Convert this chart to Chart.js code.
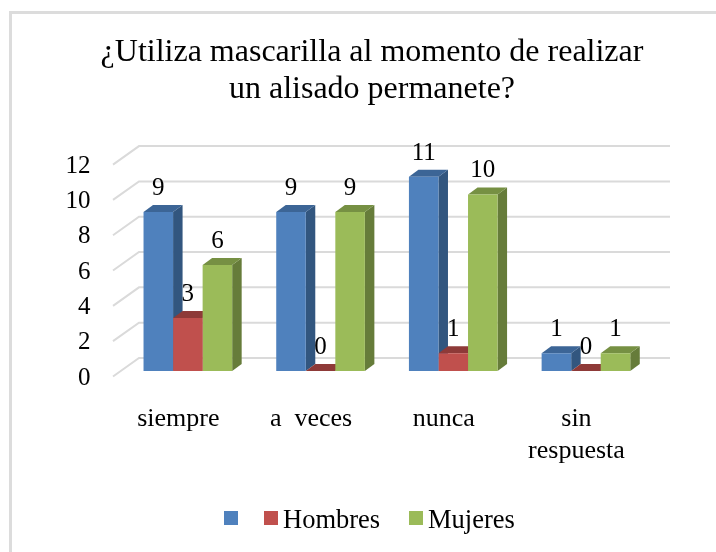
<!DOCTYPE html>
<html>
<head>
<meta charset="utf-8">
<script src="https://cdn.jsdelivr.net/npm/chart.js@4/dist/chart.umd.js"></script>
<style>
html,body{margin:0;padding:0;background:#fff;overflow:hidden}
#wrap{position:relative;width:716px;height:552px}
canvas{display:block}
#edgeTop{position:absolute;left:9px;top:11px;width:707px;height:3px;background:#dcdcdc}
#edgeLeft{position:absolute;left:9px;top:11px;width:3px;height:541px;background:#dcdcdc}
</style>
</head>
<body>
<div id="wrap"><canvas id="c" width="716" height="552"></canvas><div id="edgeTop"></div><div id="edgeLeft"></div></div>
<script>
const categories = ['siempre', 'a  veces', 'nunca', ['sin', 'respuesta']];
const seriesLabels = ['', 'Hombres', 'Mujeres'];
const blueValues = [9, 9, 11, 1];
const redValues = [3, 0, 1, 0];
const greenValues = [6, 9, 10, 1];
const titleLines = ['¿Utiliza mascarilla al momento de realizar', 'un alisado permanete?'];
const frontColors = ['#4f81bd', '#c0504d', '#9bbb59'];
const topColors = ['#3c6596', '#8e3a38', '#769043'];
const sideColors = ['#32567f', '#7a3230', '#667c3a'];

const FONT = '"Liberation Serif", "Times New Roman", serif';
const DX = 9.5, DY = 7;          // bar depth
const BACK_LEFT = 139, BACK_RIGHT = 670, FRONT_LEFT = 113;
const BACK_UP = 13, FRONT_DOWN = 5.5;

const grid3d = {
  id: 'grid3d',
  beforeDatasetsDraw(chart) {
    const y = chart.scales.y, ctx = chart.ctx;
    ctx.save();
    ctx.strokeStyle = '#dadada';
    ctx.lineWidth = 2;
    y.ticks.forEach(t => {
      const py = y.getPixelForValue(t.value);
      ctx.beginPath();
      ctx.moveTo(FRONT_LEFT, py + FRONT_DOWN);
      ctx.lineTo(BACK_LEFT, py - BACK_UP);
      ctx.lineTo(BACK_RIGHT, py - BACK_UP);
      ctx.stroke();
    });
    // side and top faces of the bars, left to right
    const n = chart.data.labels.length;
    for (let i = 0; i < n; i++) {
      chart.data.datasets.forEach((ds, d) => {
        const b = chart.getDatasetMeta(d).data[i];
        const l = b.x - b.width / 2, r = b.x + b.width / 2, t = b.y, base = b.base;
        ctx.fillStyle = sideColors[d];
        ctx.beginPath();
        ctx.moveTo(r, t); ctx.lineTo(r + DX, t - DY); ctx.lineTo(r + DX, base - DY); ctx.lineTo(r, base);
        ctx.closePath(); ctx.fill();
        ctx.fillStyle = topColors[d];
        ctx.beginPath();
        ctx.moveTo(l, t); ctx.lineTo(l + DX, t - DY); ctx.lineTo(r + DX, t - DY); ctx.lineTo(r, t);
        ctx.closePath(); ctx.fill();
      });
    }
    ctx.restore();
  },
  afterDatasetsDraw(chart) {
    const ctx = chart.ctx;
    ctx.save();
    ctx.font = '25px ' + FONT;
    ctx.fillStyle = '#000';
    ctx.textAlign = 'center';
    ctx.textBaseline = 'alphabetic';
    chart.data.datasets.forEach((ds, d) => {
      chart.getDatasetMeta(d).data.forEach((b, i) => {
        ctx.fillText(String(ds.data[i]), b.x, b.y - 17);
      });
    });
    // legend
    const boxes = [224, 264, 409];
    ctx.font = '26.5px ' + FONT;
    ctx.textAlign = 'left';
    chart.data.datasets.forEach((ds, d) => {
      ctx.fillStyle = frontColors[d];
      ctx.fillRect(boxes[d], 511, 14, 14);
      ctx.fillStyle = '#000';
      ctx.fillText(ds.label, boxes[d] + 19, 528);
    });
    ctx.restore();
  }
};

new Chart(document.getElementById('c'), {
  type: 'bar',
  data: {
    labels: categories,
    datasets: [
      { label: seriesLabels[0], data: blueValues, backgroundColor: frontColors[0] },
      { label: seriesLabels[1], data: redValues, backgroundColor: frontColors[1] },
      { label: seriesLabels[2], data: greenValues, backgroundColor: frontColors[2] }
    ]
  },
  plugins: [grid3d],
  options: {
    responsive: false,
    animation: false,
    layout: { padding: { top: 0, left: 28, right: 0, bottom: 0 } },
    datasets: { bar: { categoryPercentage: 0.668, barPercentage: 1, minBarLength: 0 } },
    plugins: {
      legend: { display: false },
      tooltip: { enabled: false },
      title: {
        display: true,
        text: titleLines,
        color: '#000',
        font: { family: FONT, size: 32, weight: 'normal', lineHeight: 1.15 },
        padding: { top: 34, bottom: 51.5 }
      }
    },
    scales: {
      x: {
        grid: { display: false },
        border: { display: false },
        ticks: {
          color: '#000',
          font: { family: FONT, size: 26, lineHeight: 1.2 },
          labelOffset: -9.5,
          padding: 25,
          maxRotation: 0,
          autoSkip: false
        },
        afterFit(s) { s.height = 181; }
      },
      y: {
        min: 0,
        max: 12,
        grid: { display: false },
        border: { display: false },
        ticks: {
          stepSize: 2,
          color: '#000',
          font: { family: FONT, size: 25 },
          labelOffset: 7,
          padding: 23
        },
        afterFit(s) { s.width = 93.5; }
      },
      yRightSpace: {
        position: 'right',
        display: true,
        grid: { display: false },
        border: { display: false },
        ticks: { display: false },
        afterFit(s) { s.width = 63.7; }
      }
    }
  }
});
</script>
</body>
</html>
